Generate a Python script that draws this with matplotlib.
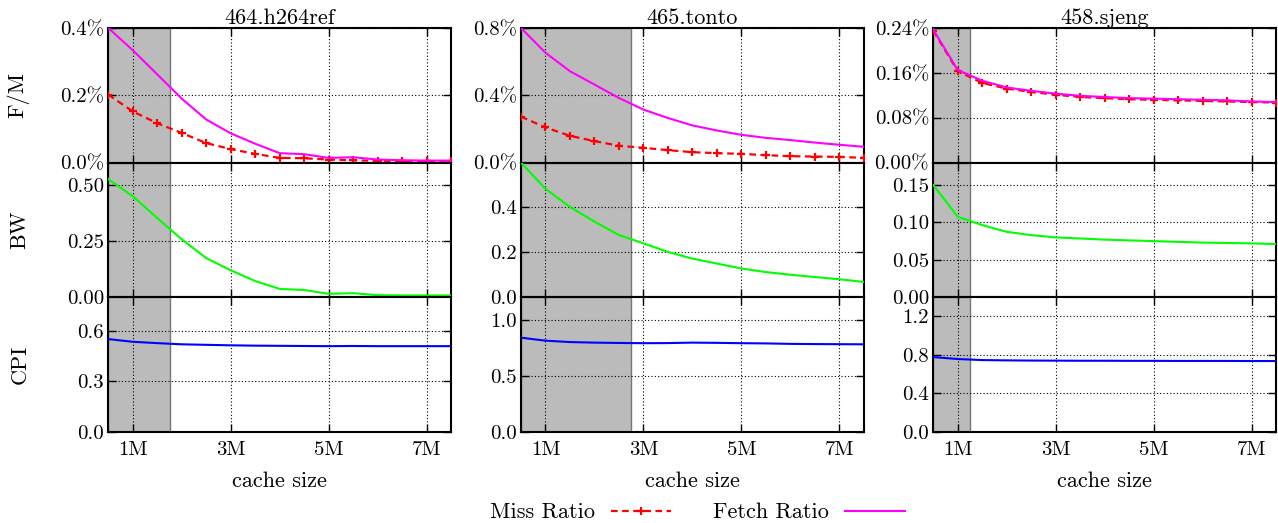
import matplotlib
matplotlib.use("Agg")
import matplotlib.pyplot as plt

plt.rcParams['font.family'] = ['cmr10', 'DejaVu Serif']
plt.rcParams['mathtext.fontset'] = 'cm'
plt.rcParams['axes.formatter.use_mathtext'] = True

# ---------------- data ----------------
cache_sizes = [0.5, 1.0, 1.5, 2.0, 2.5, 3.0, 3.5, 4.0, 4.5, 5.0, 5.5, 6.0, 6.5, 7.0, 7.5]
benchmarks = ["464.h264ref", "465.tonto", "458.sjeng"]
shade_end = [1.75, 2.75, 1.25]

# F/M (percent)
h264_miss = [0.202, 0.152, 0.117, 0.088, 0.058, 0.040, 0.026, 0.014, 0.013, 0.009, 0.007, 0.005, 0.004, 0.004, 0.004]
h264_fetch = [0.400, 0.334, 0.262, 0.190, 0.128, 0.087, 0.056, 0.028, 0.025, 0.014, 0.016, 0.009, 0.007, 0.006, 0.006]
tonto_miss = [0.273, 0.209, 0.159, 0.128, 0.100, 0.088, 0.074, 0.062, 0.056, 0.052, 0.044, 0.038, 0.036, 0.034, 0.028]
tonto_fetch = [0.800, 0.653, 0.543, 0.464, 0.384, 0.315, 0.265, 0.221, 0.191, 0.165, 0.147, 0.134, 0.119, 0.106, 0.094]
sjeng_miss = [0.235, 0.163, 0.142, 0.132, 0.126, 0.121, 0.117, 0.115, 0.113, 0.112, 0.111, 0.110, 0.109, 0.108, 0.107]
sjeng_fetch = [0.237, 0.165, 0.146, 0.134, 0.128, 0.123, 0.119, 0.117, 0.115, 0.114, 0.113, 0.112, 0.111, 0.109, 0.108]

# BW
h264_bw = [0.526, 0.450, 0.353, 0.258, 0.174, 0.120, 0.072, 0.037, 0.032, 0.015, 0.018, 0.009, 0.008, 0.008, 0.008]
tonto_bw = [0.600, 0.483, 0.402, 0.337, 0.277, 0.240, 0.202, 0.172, 0.150, 0.128, 0.112, 0.100, 0.090, 0.080, 0.068]
sjeng_bw = [0.150, 0.1075, 0.0964, 0.0874, 0.083, 0.080, 0.0785, 0.077, 0.076, 0.075, 0.074, 0.073, 0.0725, 0.072, 0.071]

# CPI
h264_cpi = [0.551, 0.535, 0.527, 0.520, 0.517, 0.514, 0.512, 0.511, 0.510, 0.509, 0.510, 0.509, 0.509, 0.509, 0.509]
tonto_cpi = [0.839, 0.8125, 0.800, 0.795, 0.792, 0.790, 0.791, 0.795, 0.793, 0.790, 0.788, 0.784, 0.782, 0.781, 0.780]
sjeng_cpi = [0.777, 0.757, 0.746, 0.743, 0.741, 0.740, 0.739, 0.739, 0.738, 0.738, 0.737, 0.737, 0.737, 0.736, 0.736]

miss = [h264_miss, tonto_miss, sjeng_miss]
fetch = [h264_fetch, tonto_fetch, sjeng_fetch]
bw = [h264_bw, tonto_bw, sjeng_bw]
cpi = [h264_cpi, tonto_cpi, sjeng_cpi]

fm_ylim = [0.4, 0.8, 0.24]
fm_ticks = [[0.0, 0.2, 0.4], [0.0, 0.4, 0.8], [0.0, 0.08, 0.16, 0.24]]
fm_labels = [["0.0%", "0.2%", "0.4%"], ["0.0%", "0.4%", "0.8%"], ["0.00%", "0.08%", "0.16%", "0.24%"]]
bw_ylim = [0.6, 0.6, 0.18]
bw_ticks = [[0.0, 0.25, 0.5], [0.0, 0.2, 0.4], [0.0, 0.05, 0.10, 0.15]]
bw_labels = [["0.00", "0.25", "0.50"], ["0.0", "0.2", "0.4"], ["0.00", "0.05", "0.10", "0.15"]]
cpi_ylim = [0.8, 1.2, 1.4]
cpi_ticks = [[0.0, 0.3, 0.6], [0.0, 0.5, 1.0], [0.0, 0.4, 0.8, 1.2]]
cpi_labels = [["0.0", "0.3", "0.6"], ["0.0", "0.5", "1.0"], ["0.0", "0.4", "0.8", "1.2"]]

xticks = [1, 3, 5, 7]
xticklabels = ["1M", "3M", "5M", "7M"]
row_labels = ["F/M", "BW", "CPI"]

# ---------------- layout ----------------
W, H = 1278, 523
fig = plt.figure(figsize=(W / 100, H / 100), dpi=100)
col_left = [108.3, 521.0, 933.3]
ax_w = 342.8
top_px = 28.0
row_h = 134.6

TICK_FS = 15
LABEL_FS = 16


def style(ax):
    ax.set_xlim(0.5, 7.5)
    ax.set_xticks(xticks)
    ax.grid(True, linestyle=(0, (1, 2)), color='black', linewidth=0.8)
    ax.tick_params(direction='in', top=True, right=True, length=6, width=1.0,
                   labelsize=TICK_FS, pad=3)
    ax.tick_params(axis='x', pad=7)
    for s in ax.spines.values():
        s.set_linewidth(1.5)
    ax.set_axisbelow(False)


legend_handles = None
for c in range(3):
    axes = []
    for r in range(3):
        left = col_left[c] / W
        bottom = 1 - (top_px + (r + 1) * row_h) / H
        ax = fig.add_axes([left, bottom, ax_w / W, row_h / H])
        axes.append(ax)
        ax.axvspan(0.5, shade_end[c], facecolor='#bbbbbb', edgecolor='#777777',
                   linewidth=1.0, zorder=0)
        style(ax)
        if r < 2:
            ax.tick_params(labelbottom=False)
        else:
            ax.set_xticklabels(xticklabels)
            ax.set_xlabel("cache size", fontsize=LABEL_FS, labelpad=9)
        if c == 0:
            ax.set_ylabel(row_labels[r], fontsize=LABEL_FS)
            ax.yaxis.set_label_coords(-0.23, 0.5)

    a0, a1, a2 = axes
    l1, = a0.plot(cache_sizes, miss[c], color='#ff0000', linestyle='--', linewidth=1.6,
                  marker='+', markersize=5.5, markeredgewidth=1.6, zorder=3, dashes=(3, 2))
    l2, = a0.plot(cache_sizes, fetch[c], color='#ff00ff', linewidth=1.5, zorder=4)
    a0.set_ylim(0, fm_ylim[c])
    a0.set_yticks(fm_ticks[c])
    a0.set_yticklabels(fm_labels[c])
    a0.set_title(benchmarks[c], fontsize=LABEL_FS, pad=3)

    a1.plot(cache_sizes, bw[c], color='#00ff00', linewidth=1.5, zorder=3)
    a1.set_ylim(0, bw_ylim[c])
    a1.set_yticks(bw_ticks[c])
    a1.set_yticklabels(bw_labels[c])

    a2.plot(cache_sizes, cpi[c], color='#0000ff', linewidth=1.5, zorder=3)
    a2.set_ylim(0, cpi_ylim[c])
    a2.set_yticks(cpi_ticks[c])
    a2.set_yticklabels(cpi_labels[c])

    if c == 1:
        legend_handles = (a2, [l1, l2])

ax_leg, hs = legend_handles
ax_leg.legend(hs, ["Miss Ratio", "Fetch Ratio"], loc='center',
              bbox_to_anchor=(0.515, -0.6), ncol=2, frameon=False, markerfirst=False,
              numpoints=1, handlelength=2.7, columnspacing=1.9, handletextpad=0.7,
              fontsize=LABEL_FS)

fig.savefig("out.png", dpi=100)
